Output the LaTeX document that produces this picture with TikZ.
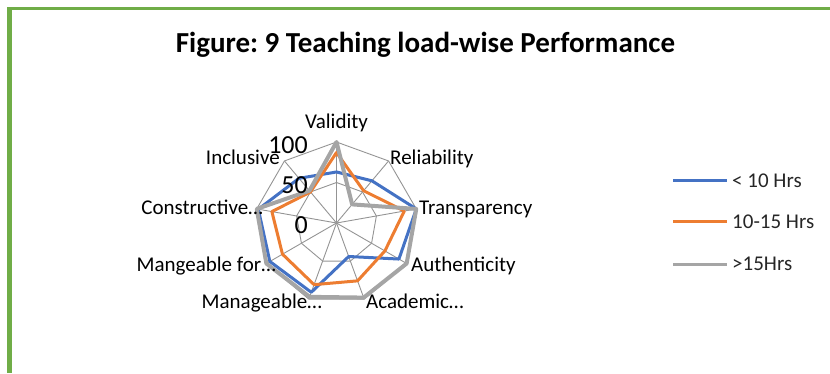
\documentclass[tikz,border=0pt]{standalone}
\usepackage{fontspec}
\setmainfont{Carlito}
\usetikzlibrary{positioning}
\frenchspacing
\definecolor{framegreen}{HTML}{70AD47}
\definecolor{lowload}{HTML}{4472C4}
\definecolor{midload}{HTML}{ED7D31}
\definecolor{highload}{HTML}{A5A5A5}
\tikzstyle{gridline} = [draw=black!42, line width=0.9pt]
\tikzstyle{series} = [line width=3pt, line join=round]
\tikzstyle{titlebox} = [inner sep=0pt, anchor=base, font=\bfseries\fontsize{29}{33}\selectfont]
\tikzstyle{catlabel} = [inner sep=0pt, font=\fontsize{21}{25}\selectfont]
\tikzstyle{axislabel} = [inner sep=0pt, anchor=base east, font=\fontsize{26}{30}\selectfont]
\tikzstyle{legendtext} = [inner sep=0pt, text=black!85, font=\fontsize{21}{25}\selectfont]
\def\rad{0.81}

\begin{document}
\begin{tikzpicture}[x=1pt, y=1pt]
    \useasboundingbox (0,0) rectangle (830,373);

    % frame on the left and top
    \fill[framegreen] (7,0) rectangle (12,366);
    \fill[framegreen] (7,363) rectangle (830,366);

    \node (title) [titlebox] at (425.5,320) {Figure: 9 Teaching load-wise Performance};

    \begin{scope}[shift={(336.5,150)}]
    \foreach \a in {90,50,...,-230} \draw[gridline] (0,0) -- (\a:{100*\rad});
    \draw[gridline] (90:{100*\rad}) \foreach \a in {50,10,...,-230} { -- (\a:{100*\rad}) } -- cycle;
    \draw[gridline] (90:{50*\rad}) \foreach \a in {50,10,...,-230} { -- (\a:{50*\rad}) } -- cycle;

    \draw[series, lowload] (90:{63*\rad}) -- (50:{68*\rad}) -- (10:{100*\rad}) -- (-30:{89*\rad}) -- (-70:{44*\rad})
        -- (-110:{91*\rad}) -- (-150:{95*\rad}) -- (170:{98*\rad}) -- (130:{72*\rad}) -- cycle;
    \draw[series, midload] (90:{87*\rad}) -- (50:{52*\rad}) -- (10:{85*\rad}) -- (-30:{69*\rad}) -- (-70:{76*\rad})
        -- (-110:{81*\rad}) -- (-150:{77*\rad}) -- (170:{81*\rad}) -- (130:{50*\rad}) -- cycle;
    \draw[series, highload, line width=4pt] (90:{100*\rad}) -- (50:{30*\rad}) -- (10:{100*\rad}) -- (-30:{100*\rad}) -- (-70:{98*\rad})
        -- (-110:{97*\rad}) -- (-150:{100*\rad}) -- (170:{100*\rad}) -- (130:{52*\rad}) -- cycle;
    \end{scope}

    \node (ax100) [axislabel] at (308,220) {100};
    \node (ax50) [axislabel] at (308,180) {50};
    \node (ax0) [axislabel] at (308,140) {0};

    \node (validity) [catlabel, anchor=base] at (336.5,244) {Validity};
    \node (reliability) [catlabel, anchor=base west] at (390,209) {Reliability};
    \node (transparency) [catlabel, anchor=base west] at (419,158.5) {Transparency};
    \node (authenticity) [catlabel, anchor=base west] at (411,101.5) {Authenticity};
    \node (academic) [catlabel, anchor=base west] at (366,65) {Academic…};
    \node (manageable) [catlabel, anchor=base east] at (322,65) {Manageable…};
    \node (mangeable) [catlabel, anchor=base east] at (276,101.5) {Mangeable for…};
    \node (constructive) [catlabel, anchor=base east] at (263,158.5) {Constructive…};
    \node (inclusive) [catlabel, anchor=base east] at (280,209) {Inclusive};

    % legend
    \coordinate (lowA) at (673,192.5);
    \coordinate (lowB) at (727,192.5);
    \coordinate (midA) at (673,151.3);
    \coordinate (midB) at (727,151.3);
    \coordinate (highA) at (673,109);
    \coordinate (highB) at (727,109);
    \draw[series, lowload] (lowA) -- (lowB);
    \draw[series, midload] (midA) -- (midB);
    \draw[series, highload] (highA) -- (highB);
    \node (lowtext) [legendtext, right=5pt of lowB] {< 10 Hrs};
    \node (midtext) [legendtext, right=5pt of midB] {10-15 Hrs};
    \node (hightext) [legendtext, right=5pt of highB] {>15Hrs};

\end{tikzpicture}
\end{document}
